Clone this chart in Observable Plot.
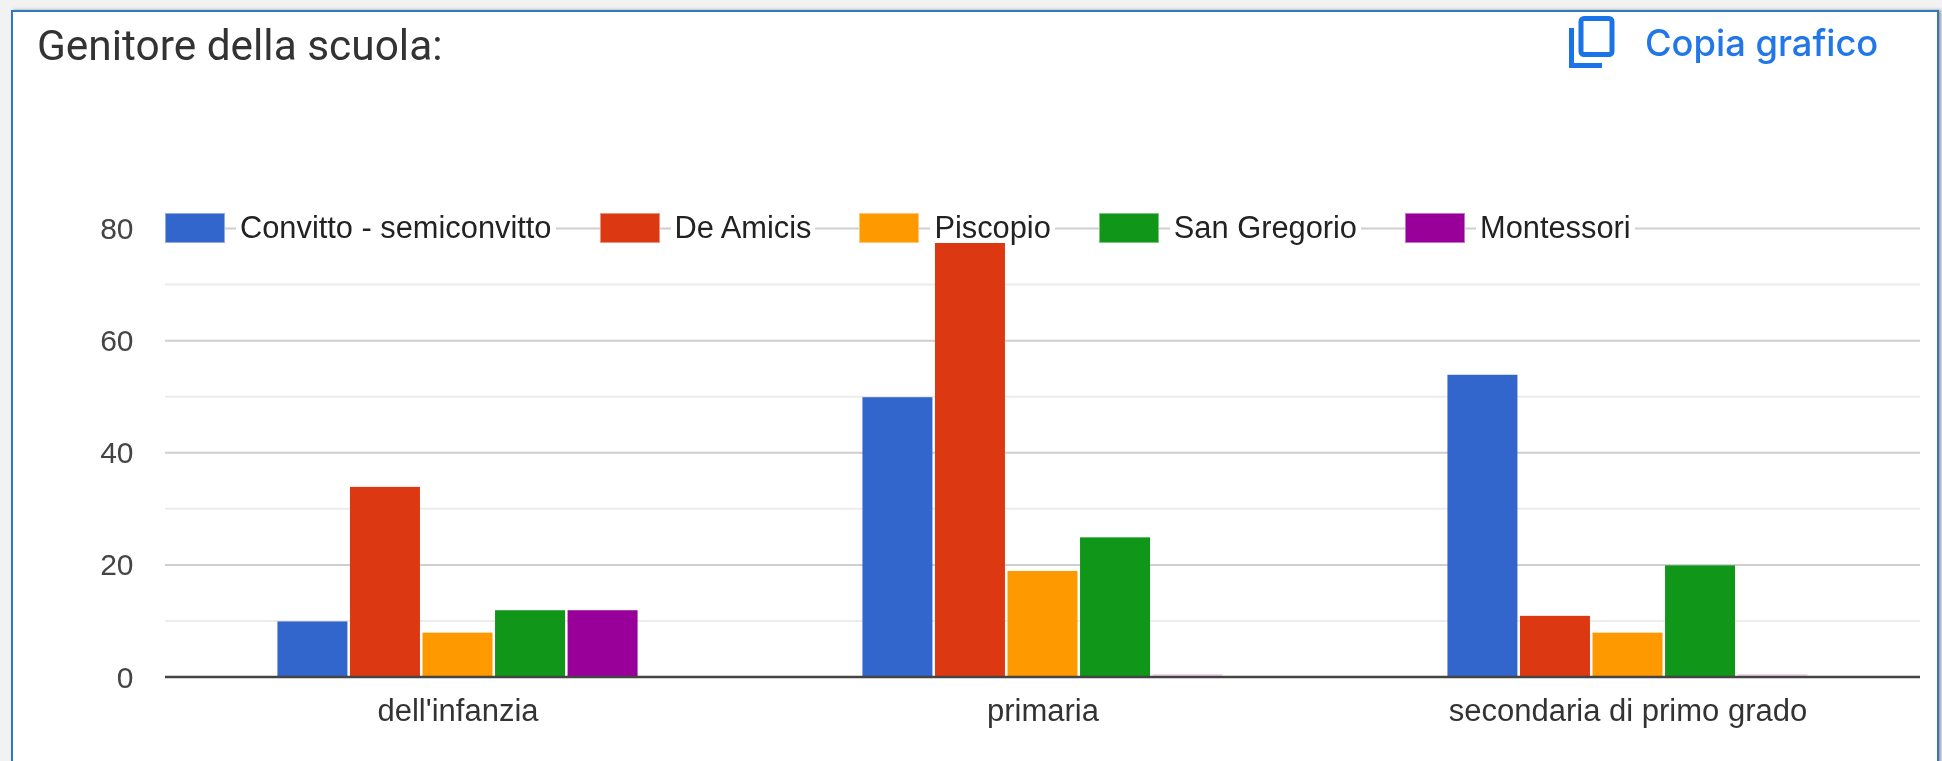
<!DOCTYPE html>
<html lang="it">
<head>
<meta charset="utf-8">
<title>Genitore della scuola</title>
<script src="https://cdn.jsdelivr.net/npm/d3@7"></script>
<script src="https://cdn.jsdelivr.net/npm/@observablehq/plot@0.6"></script>
<style>
  html, body { margin: 0; padding: 0; background: #f2f2f2; overflow: hidden; }
  #page { position: relative; width: 1942px; height: 761px; overflow: hidden; filter: blur(0.5px); }
  #card { position: absolute; left: 11px; top: 10px; width: 1924px; height: 800px; background: #fff;
          border: 2px solid #2f78c4; box-shadow: 2px 0 3px #999; }
  #title { position: absolute; left: 37px; top: 22px; font: 400 42.4px Roboto, sans-serif; color: #333; white-space: nowrap; line-height: 48px; }
  #copy { position: absolute; left: 1645px; top: 20px; font: 500 36.3px Inter, sans-serif; color: #2277e8; white-space: nowrap; line-height: 46px; }
  #icon { position: absolute; left: 1569px; top: 16px; }
  #chart { position: absolute; left: 0; top: 0; }
  #chart svg { display: block; background: transparent; }
  #legend { position: absolute; left: 165px; top: 213px; height: 30px; display: flex; align-items: center; gap: 44px;
            font: 400 30.8px "Liberation Sans", Arial, sans-serif; color: #222; white-space: nowrap; }
  .item { display: flex; align-items: center; height: 30px; }
  .swatch { width: 60px; height: 30px; box-sizing: border-box; border: 1px solid rgba(255,255,255,.45); }
  .label { margin-left: 11px; padding: 0 4px; background: #fff; line-height: 30px; }
</style>
</head>
<body>
<div id="page">
  <div id="card"></div>
  <div id="title">Genitore della scuola:</div>
  <svg id="icon" width="46" height="52" viewBox="0 0 46 52" fill="none" stroke="#1a73e8" stroke-width="5">
    <rect x="12" y="2.5" width="31" height="36" rx="3"></rect>
    <path d="M2.5 12 V49.5 H33"></path>
  </svg>
  <div id="copy">Copia grafico</div>
  <div id="chart"></div>
  <div id="legend"></div>
</div>
<script>
const schools = ["Convitto - semiconvitto", "De Amicis", "Piscopio", "San Gregorio", "Montessori"];
const colors = ["#3366cc", "#dc3912", "#ff9900", "#109618", "#990099"];
const grades = ["dell'infanzia", "primaria", "secondaria di primo grado"];
const convitto = [10, 50, 54];
const deAmicis = [34, 78, 11];
const piscopio = [8, 19, 8];
const sanGregorio = [12, 25, 20];
const montessori = [12, 0, 0];
const majorTicks = [20, 40, 60, 80];
const minorTicks = [10, 30, 50, 70];
const axisTicks = [0, 20, 40, 60, 80];

const seriesValues = [convitto, deAmicis, piscopio, sanGregorio, montessori];
const rows = grades.flatMap((grade, g) =>
  schools.map((school, s) => ({grade, school, value: seriesValues[s][g]}))
);

const plot = Plot.plot({
  width: 1942,
  height: 761,
  marginLeft: 165,
  marginRight: 22,
  marginTop: 228,
  marginBottom: 84.5,
  style: {background: "transparent", fontFamily: "'Liberation Sans', Arial, sans-serif"},
  fx: {domain: grades, padding: 0, label: null},
  x: {domain: schools, axis: null, paddingInner: 0.035, paddingOuter: 1.55, round: false},
  y: {domain: [0, 80], label: null},
  color: {domain: schools, range: colors},
  marks: [
    Plot.ruleY(minorTicks, {stroke: "#ececec", strokeWidth: 2}),
    Plot.ruleY(majorTicks, {stroke: "#cfcfcf", strokeWidth: 2}),
    Plot.axisY({ticks: axisTicks, tickSize: 0, tickPadding: 32, fontSize: 30, fill: "#444", label: null, dy: 1}),
    Plot.axisFx({tickSize: 0, tickPadding: 22, fontSize: 31, fill: "#333", label: null, anchor: "bottom"}),
    Plot.rectY(rows, {fx: "grade", x: "school", y: "value", fill: "school", insetTop: 1}),
    Plot.tickY(rows.filter(d => d.value === 0), {fx: "grade", x: "school", y: "value", stroke: "school", strokeOpacity: 0.15, strokeWidth: 2, dy: -2}),
    Plot.ruleY([0], {stroke: "#444", strokeWidth: 2.5})
  ]
});
document.getElementById("chart").append(plot);

const legend = d3.select("#legend");
schools.forEach((school, i) => {
  const item = legend.append("div").attr("class", "item");
  item.append("div").attr("class", "swatch").style("background", colors[i]);
  item.append("div").attr("class", "label").text(school);
});
</script>
</body>
</html>
